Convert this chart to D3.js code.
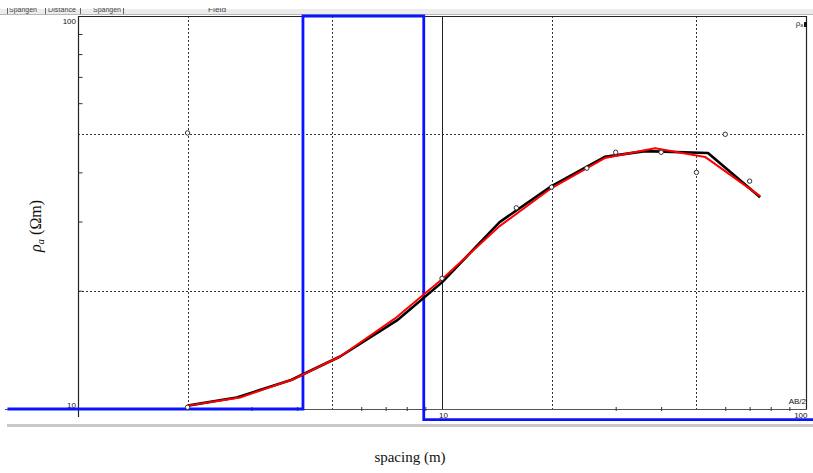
<!DOCTYPE html>
<html>
<head>
<meta charset="utf-8">
<script src="https://cdn.jsdelivr.net/npm/d3@7/dist/d3.min.js"></script>
<style>
  html, body { margin: 0; padding: 0; background: #fff; }
  svg { display: block; }
</style>
</head>
<body>
<svg id="chart" width="813" height="473"></svg>
<script>
// Observed apparent resistivity (AB/2 in m, rho_a in ohm·m)
const obsAB2 = [2, 2, 10, 16, 20, 25, 30, 40, 50, 60, 70];
const obsRho = [10.1, 50.4, 21.5, 32.5, 36.7, 41, 45, 45, 40, 50, 38];

// Smoothed field curve
const fieldAB2 = [2.0, 2.73, 3.85, 5.25, 7.52, 10, 14.4, 20, 28, 36.1, 53.8, 74.8];
const fieldRho = [10.2, 10.7, 11.85, 13.6, 16.8, 21.0, 29.9, 36.9, 43.8, 45.3, 44.8, 34.6];

// Theoretical curve of the layered model
const modelAB2 = [2.0, 2.79, 3.9, 5.25, 7.43, 10, 14.4, 20, 28, 38.5, 52.8, 74.8];
const modelRho = [10.2, 10.7, 11.9, 13.6, 17.0, 21.4, 29.2, 36.5, 43.5, 46.1, 43.8, 34.8];

// Layered model: layer resistivities and interface depths
const layerRho = [10, 100, 9.4];
const layerDepth = [0.64, 4.15, 8.91, 106];

// Axis tick values
const xMinorTicks = [3, 4, 6, 7, 8, 9, 30, 40, 60, 70, 80, 90];
const yMinorTicks = [20, 30, 40, 60, 70, 80, 90];
const xGridDotted = [2, 5, 20, 50];
const yGridDotted = [20, 50];
const xLabelTicks = [10, 100];
const yLabelTicks = [10, 100];

const svg = d3.select("#chart");

const x = d3.scaleLog().domain([1, 100]).range([78, 806]);
const y = d3.scaleLog().domain([10, 100]).range([409, 16]);

// Window strip across the top
svg.append("rect").attr("x", 0).attr("y", 9).attr("width", 813).attr("height", 6).attr("fill", "#ececec");
svg.append("line").attr("x1", 0).attr("x2", 813).attr("y1", 14.5).attr("y2", 14.5).attr("stroke", "#b8b8b8");
const clip = svg.append("clipPath").attr("id", "topclip");
clip.append("rect").attr("x", 0).attr("y", 8).attr("width", 813).attr("height", 6);
const tabs = [["Spangen", 9, 28], ["Distance", 48, 28], ["Spangen", 93, 28], ["Field", 208, 18]];
const tabG = svg.append("g").attr("clip-path", "url(#topclip)");
tabs.forEach(([t, px, w]) => {
  tabG.append("text").attr("x", px).attr("y", 12).attr("font-family", "Liberation Sans")
    .attr("font-size", 8).attr("textLength", w).attr("lengthAdjust", "spacingAndGlyphs")
    .attr("fill", "#444").text(t);
});
[7, 45, 80, 123].forEach(px => {
  tabG.append("line").attr("x1", px + 0.5).attr("x2", px + 0.5).attr("y1", 8).attr("y2", 14)
    .attr("stroke", "#666");
});

// Bottom window border
svg.append("rect").attr("x", 7).attr("y", 424).attr("width", 806).attr("height", 3).attr("fill", "#c8c8c8");

// Dotted grid
const grid = svg.append("g");
grid.selectAll("line.vx").data(xGridDotted).join("line")
  .attr("x1", d => Math.round(x(d)) + 0.5).attr("x2", d => Math.round(x(d)) + 0.5)
  .attr("y1", y(100)).attr("y2", y(10))
  .attr("stroke", "#333").attr("stroke-width", 1).attr("stroke-dasharray", "2,2");
grid.selectAll("line.hy").data(yGridDotted).join("line")
  .attr("x1", x(1)).attr("x2", x(100))
  .attr("y1", d => Math.round(y(d)) + 0.5).attr("y2", d => Math.round(y(d)) + 0.5)
  .attr("stroke", "#333").attr("stroke-width", 1).attr("stroke-dasharray", "2,2");
// Solid decade line at AB/2 = 10
grid.append("line")
  .attr("x1", Math.round(x(10)) + 0.5).attr("x2", Math.round(x(10)) + 0.5)
  .attr("y1", y(100)).attr("y2", y(10))
  .attr("stroke", "#222").attr("stroke-width", 1);

// Frame: top and right edges
svg.append("path")
  .attr("d", `M${x(1)},${y(100) + 0.5}H${x(100) + 0.5}V${y(10)}`)
  .attr("fill", "none").attr("stroke", "#222").attr("stroke-width", 1.2);

// Bottom axis line
svg.append("line").attr("x1", 5).attr("x2", x(100) + 1).attr("y1", y(10) + 0.5).attr("y2", y(10) + 0.5)
  .attr("stroke", "#555").attr("stroke-width", 1.2);
// Left axis line
svg.append("line").attr("x1", x(1) + 0.5).attr("x2", x(1) + 0.5).attr("y1", y(100)).attr("y2", 417)
  .attr("stroke", "#222").attr("stroke-width", 1.2);

// Minor ticks on the bottom axis (pointing up)
const xMinor = d3.axisBottom(x).tickValues(xMinorTicks).tickSize(-4).tickFormat("");
svg.append("g").attr("transform", `translate(0,${y(10) + 2})`).call(xMinor)
  .call(g => g.select(".domain").remove())
  .call(g => g.selectAll(".tick line").attr("stroke", "#333"));

// Minor ticks on the left axis (pointing right)
const yMinor = d3.axisLeft(y).tickValues(yMinorTicks).tickSize(-4).tickFormat("");
svg.append("g").attr("transform", `translate(${x(1) + 0.5},0)`).call(yMinor)
  .call(g => g.select(".domain").remove())
  .call(g => g.selectAll(".tick line").attr("stroke", "#333"));

// Axis number labels
const lblFont = "'Liberation Sans Narrow', 'Liberation Sans', Arial, sans-serif";
const xLab = d3.axisBottom(x).tickValues(xLabelTicks).tickSize(0).tickPadding(3).tickFormat(d3.format("d"));
svg.append("g").attr("transform", `translate(0,${y(10)})`).call(xLab)
  .call(g => g.select(".domain").remove())
  .call(g => g.selectAll("text").attr("font-family", lblFont).attr("font-size", 8).attr("fill", "#111")
    .attr("text-anchor", d => d === 100 ? "end" : "middle")
    .attr("dx", 1));
const yLab = d3.axisLeft(y).tickValues(yLabelTicks).tickSize(0).tickPadding(2).tickFormat(d3.format("d"));
svg.append("g").attr("transform", `translate(${x(1)},0)`).call(yLab)
  .call(g => g.select(".domain").remove())
  .call(g => g.selectAll("text").attr("font-family", lblFont).attr("font-size", 8).attr("fill", "#111")
    .attr("dy", d => d === 100 ? "0.95em" : "-0.2em"));

// Small corner captions
svg.append("text").attr("x", 806).attr("y", 404).attr("text-anchor", "end")
  .attr("font-family", lblFont).attr("font-size", 8).attr("fill", "#111").text("AB/2");
const rc = svg.append("text").attr("x", 803).attr("y", 26).attr("text-anchor", "end")
  .attr("font-family", lblFont).attr("font-size", 8).attr("fill", "#333");
rc.append("tspan").text("ρ");
rc.append("tspan").attr("font-size", 5).attr("dy", 1).text("a");
svg.append("rect").attr("x", 804).attr("y", 22).attr("width", 3).attr("height", 5).attr("fill", "#111");

// Layered model (blue step line)
const stepPts = [];
layerRho.forEach((r, i) => {
  stepPts.push([layerDepth[i], r]);
  stepPts.push([layerDepth[i + 1], r]);
});
svg.append("path")
  .attr("d", d3.line().x(d => x(d[0])).y(d => y(d[1])).curve(d3.curveLinear)(stepPts))
  .attr("fill", "none").attr("stroke", "#0a14ff").attr("stroke-width", 2.8);

// Field curve and model curve
const line = d3.line().x(d => x(d[0])).y(d => y(d[1]));
svg.append("path").attr("d", line(d3.zip(fieldAB2, fieldRho)))
  .attr("fill", "none").attr("stroke", "#000").attr("stroke-width", 2.6).attr("stroke-linejoin", "round");
svg.append("path").attr("d", line(d3.zip(modelAB2, modelRho)))
  .attr("fill", "none").attr("stroke", "#ff0000").attr("stroke-width", 2).attr("stroke-linejoin", "round");

// Observed points
svg.selectAll("circle.obs").data(d3.zip(obsAB2, obsRho)).join("circle")
  .attr("cx", d => x(d[0])).attr("cy", d => y(d[1])).attr("r", 2.2)
  .attr("fill", "#fff").attr("stroke", "#333").attr("stroke-width", 1);

// Axis titles
svg.append("text").attr("x", 410).attr("y", 462).attr("text-anchor", "middle")
  .attr("font-family", "'Liberation Serif', 'DejaVu Serif', serif").attr("font-size", 15)
  .attr("fill", "#111").text("spacing (m)");
const yt = svg.append("text").attr("transform", "translate(41,226) rotate(-90)")
  .attr("text-anchor", "middle")
  .attr("font-family", "'Liberation Serif', 'DejaVu Serif', serif").attr("font-size", 16)
  .attr("fill", "#111");
yt.append("tspan").attr("font-style", "italic").text("ρ");
yt.append("tspan").attr("font-style", "italic").attr("font-size", 11).attr("dy", 3).text("a");
yt.append("tspan").attr("dy", -3).text(" (Ωm)");
</script>
</body>
</html>
